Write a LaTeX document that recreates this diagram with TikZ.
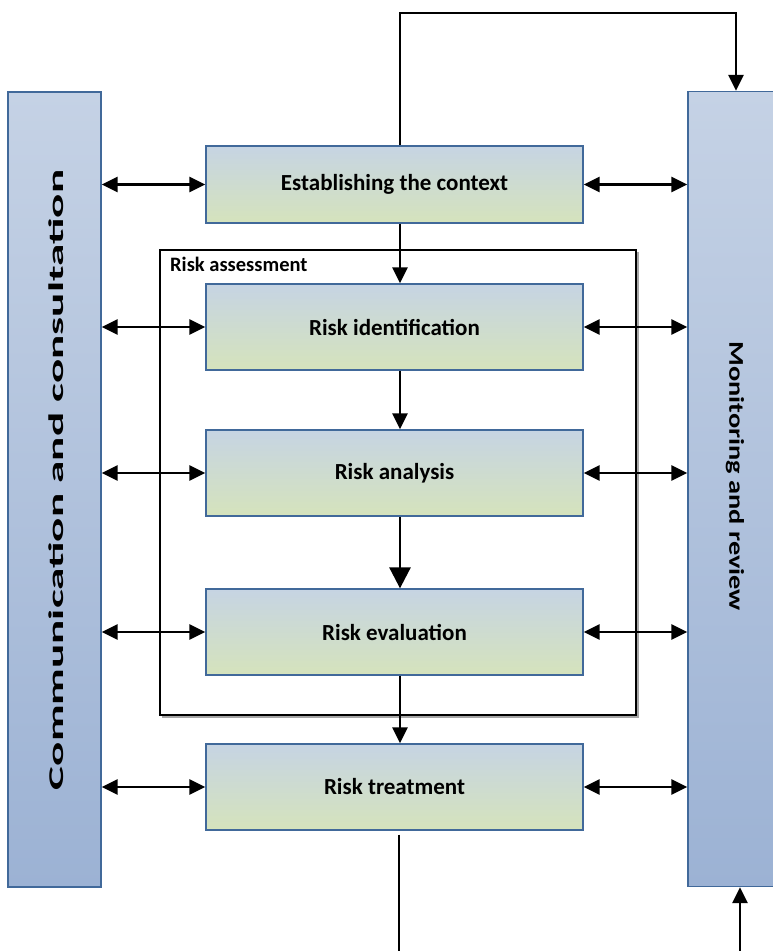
\documentclass[tikz,border=0pt]{standalone}
\usepackage{fontspec}
\setmainfont{Carlito}
\usetikzlibrary{arrows.meta,fit}
\definecolor{boxtop}{HTML}{C6D4E3}
\definecolor{boxbot}{HTML}{D5E3BC}
\definecolor{bartop}{HTML}{C5D2E5}
\definecolor{barbot}{HTML}{9CB2D4}
\definecolor{edge}{HTML}{41699A}
\tikzset{
  stepbox/.style={draw=edge, line width=1.3pt, top color=boxtop, bottom color=boxbot,
    minimum width=377pt, minimum height=86pt, inner sep=0pt,
    font=\fontsize{23}{26}\selectfont\bfseries},
  sidebar/.style={draw=edge, line width=1.3pt, top color=bartop, bottom color=barbot,
    minimum height=795pt, inner sep=0pt},
  barlabel/.style={inner sep=0pt, font=\fontsize{21}{24}\selectfont\bfseries},
  arr/.style={line width=2.8pt, -{Triangle[length=16pt,width=15pt]}},
  darr/.style={line width=2.8pt, {Triangle[length=16pt,width=15pt]}-{Triangle[length=16pt,width=15pt]}},
  plain/.style={line width=2.8pt},
}
\begin{document}
\begin{tikzpicture}[x=1pt,y=-1pt]
\useasboundingbox (0,0) rectangle (772,951);
% frame
\coordinate (fa) at (160,250);
\coordinate (fb) at (636,715);
\draw[gray!70, line width=1.5pt] (638,252) -- (638,717) -- (162,717);
\node[draw=black, line width=1.2pt, inner sep=0pt, fit=(fa)(fb)] (frame) {};
\node[anchor=base west, inner sep=0pt, font=\fontsize{20.5}{23}\selectfont\bfseries] (ralab) at (170,271) {Risk assessment};
% boxes
\node[stepbox, minimum height=77pt] (ctx) at (394.5,184.5) {Establishing the context};
\node[stepbox] (rid) at (394.5,327) {Risk identification};
\node[stepbox] (ran) at (394.5,473) {Risk analysis};
\node[stepbox] (rev) at (394.5,632) {Risk evaluation};
\node[stepbox] (rtr) at (394.5,787) {Risk treatment};
% bars
\node[sidebar, minimum width=93pt] (lbar) at (54.5,489.5) {};
\node[sidebar, minimum width=96pt] (rbar) at (736,489) {};
\node[barlabel, rotate=90] (ltext) at (56,480) {\scalebox{2.15}[1]{Communication and consultation}};
\node[barlabel, rotate=-90] (rtext) at (735,476) {\scalebox{1.35}[1]{Monitoring and review}};
% coordinates
\coordinate (vx) at (400,0);
\coordinate (tr) at (736,13);
\coordinate (bl) at (399,951);
\coordinate (br) at (740,951);
% vertical flow
\draw[arr] (ctx.south -| vx) -- (rid.north -| vx);
\draw[arr] (rid.south -| vx) -- (ran.north -| vx);
\draw[line width=2.8pt, -{Triangle[length=21pt,width=21pt]}] (ran.south -| vx) -- (rev.north -| vx);
\draw[arr] (rev.south -| vx) -- (rtr.north -| vx);
\draw[arr] (ctx.north -| vx) |- (tr) -- (rbar.north -| tr);
\draw[plain] ([yshift=-4pt]rtr.south -| bl) -- (bl);
\draw[arr] (br) -- (rbar.south -| br);
% side arrows
\foreach \b in {ctx,rid,ran,rev,rtr}{
  \draw[darr] (lbar.east |- \b.west) -- (\b.west);
  \draw[darr] (\b.east) -- (rbar.west |- \b.east);
}
\end{tikzpicture}
\end{document}
